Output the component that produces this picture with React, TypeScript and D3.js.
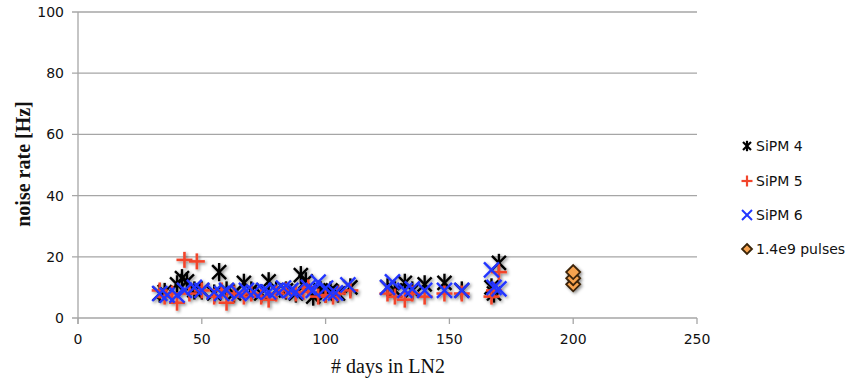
import React from "react";
import * as d3 from "d3";

const xTicks = [0, 50, 100, 150, 200, 250];
const yTicks = [0, 20, 40, 60, 80, 100];

const sipm4: [number, number][] = [
  [33, 8], [35, 8.5], [40, 11], [42, 13], [44, 12], [47, 9], [50, 9], [55, 8], [57, 15],
  [60, 9], [63, 8], [67, 11.5], [70, 9], [74, 8], [77, 12], [80, 9], [84, 9], [88, 8],
  [90, 14], [92, 12], [95, 7], [98, 9], [100, 8], [102, 9], [105, 8], [110, 10],
  [125, 10], [128, 9], [132, 11.5], [135, 9], [140, 11], [148, 11.5], [155, 9],
  [167, 10], [168, 8], [170, 18],
];
const sipm5: [number, number][] = [
  [33, 9], [35, 7], [38, 8], [40, 5], [43, 19], [45, 8], [48, 18.5], [50, 9], [55, 7],
  [58, 9], [60, 5], [63, 8], [67, 7], [70, 8], [74, 7], [77, 6], [80, 8], [84, 9],
  [88, 8], [91, 8.5], [93, 10], [97, 7], [100, 7.5], [103, 7], [105, 8], [110, 9],
  [125, 8], [128, 7], [132, 6], [135, 8], [140, 7], [148, 8], [155, 8],
  [167, 7], [168, 9], [170, 15],
];
const sipm6: [number, number][] = [
  [33, 8], [36, 7.5], [40, 7.5], [43, 9], [47, 10], [50, 9], [55, 8.5], [58, 8], [60, 9],
  [65, 8], [68, 9], [71, 8.5], [75, 9], [77, 8.5], [80, 9], [83, 9.8], [86, 9], [88, 8.5],
  [93, 10], [95, 9], [97, 11.7], [100, 9.8], [102, 8], [104, 8.2], [109, 10.8],
  [125, 10], [127, 11.8], [132, 9], [135, 9.5], [140, 9], [148, 9], [155, 9],
  [167, 15.7], [168, 10], [170, 9.5],
];
const pulses: [number, number][] = [[200, 11], [200, 13], [200, 15]];

const legendLabels = ["SiPM 4", "SiPM 5", "SiPM 6", "1.4e9 pulses"];

const RED = "#f2452c";
const BLUE = "#2236ff";

function Star({ x, y, s, w = 2.4 }: { x: number; y: number; s: number; w?: number }) {
  return (
    <g stroke="#000" strokeWidth={w} fill="none">
      <line x1={x - s} y1={y - s} x2={x + s} y2={y + s} />
      <line x1={x - s} y1={y + s} x2={x + s} y2={y - s} />
      <line x1={x} y1={y - s * 1.3} x2={x} y2={y + s * 1.3} />
    </g>
  );
}
function Plus({ x, y, s, w = 2.6 }: { x: number; y: number; s: number; w?: number }) {
  return (
    <g stroke={RED} strokeWidth={w} fill="none">
      <line x1={x - s} y1={y} x2={x + s} y2={y} />
      <line x1={x} y1={y - s} x2={x} y2={y + s} />
    </g>
  );
}
function Cross({ x, y, s, w = 2.4 }: { x: number; y: number; s: number; w?: number }) {
  return (
    <g stroke={BLUE} strokeWidth={w} fill="none">
      <line x1={x - s} y1={y - s} x2={x + s} y2={y + s} />
      <line x1={x - s} y1={y + s} x2={x + s} y2={y - s} />
    </g>
  );
}
function Diamond({ x, y, s }: { x: number; y: number; s: number }) {
  return (
    <path
      d={`M${x},${y - s}L${x + s},${y}L${x},${y + s}L${x - s},${y}Z`}
      fill="#f7a350"
      stroke="#3a2408"
      strokeWidth={1.8}
    />
  );
}

export default function App() {
  const W = 846;
  const H = 381;
  const x = d3.scaleLinear().domain([0, 250]).range([78, 697]);
  const y = d3.scaleLinear().domain([0, 100]).range([318, 12]);
  const sans = "DejaVu Sans, sans-serif";
  const serif = "Liberation Serif, Times New Roman, serif";
  const legendY = [146, 181, 215, 249];

  return (
    <svg width={W} height={H} style={{ position: "absolute", left: 0, top: 0, background: "#fff" }}>
      <defs>
        <filter id="sh" x="-50%" y="-50%" width="200%" height="200%">
          <feGaussianBlur in="SourceGraphic" stdDeviation="0.6" result="b" />
          <feDropShadow in="b" dx="1.5" dy="1.5" stdDeviation="1.4" floodColor="#000" floodOpacity="0.45" />
        </filter>
      </defs>
      <rect width={W} height={H} fill="#fff" />
      {yTicks.map((t) => (
        <g key={"y" + t}>
          <line x1={72} x2={697} y1={y(t)} y2={y(t)} stroke="#a6a6a6" strokeWidth={1.3} />
          <text x={64} y={y(t)} dy="0.35em" textAnchor="end" fontFamily={sans} fontSize={14} fill="#111">
            {t}
          </text>
        </g>
      ))}
      <line x1={78} x2={78} y1={12} y2={324} stroke="#a6a6a6" strokeWidth={1.3} />
      {xTicks.map((t) => (
        <g key={"x" + t}>
          <line x1={x(t)} x2={x(t)} y1={318} y2={324} stroke="#a6a6a6" strokeWidth={1.3} />
          <text x={x(t)} y={339} dy="0.35em" textAnchor="middle" fontFamily={sans} fontSize={14} fill="#111">
            {t}
          </text>
        </g>
      ))}
      <text
        transform={`translate(23,${y(50) - 1}) rotate(-90)`}
        textAnchor="middle"
        dy="0.35em"
        fontFamily={serif}
        fontWeight="bold"
        fontSize={20}
        fill="#111"
      >
        noise rate [Hz]
      </text>
      <text x={388} y={366} dy="0.35em" textAnchor="middle" fontFamily={serif} fontSize={20} fill="#111">
        # days in LN2
      </text>

      <g filter="url(#sh)">
        {sipm4.map((d, i) => (
          <Star key={"a" + i} x={x(d[0])} y={y(d[1])} s={7} />
        ))}
        {sipm5.map((d, i) => (
          <Plus key={"b" + i} x={x(d[0])} y={y(d[1])} s={8} />
        ))}
        {sipm6.map((d, i) => (
          <Cross key={"c" + i} x={x(d[0])} y={y(d[1])} s={7.5} />
        ))}
        {pulses.map((d, i) => (
          <Diamond key={"d" + i} x={x(d[0])} y={y(d[1])} s={7} />
        ))}
      </g>

      {legendLabels.map((l, i) => {
        const ly = legendY[i];
        const mx = 747;
        return (
          <g key={l}>
            {i === 0 && <Star x={mx} y={ly} s={4} w={2.2} />}
            {i === 1 && <Plus x={mx} y={ly} s={5.5} w={2.2} />}
            {i === 2 && <Cross x={mx} y={ly} s={5} w={2} />}
            {i === 3 && <Diamond x={mx} y={ly} s={5} />}
            <text x={756} y={ly} dy="0.35em" fontFamily={sans} fontSize={14} fill="#111">
              {l}
            </text>
          </g>
        );
      })}
    </svg>
  );
}
